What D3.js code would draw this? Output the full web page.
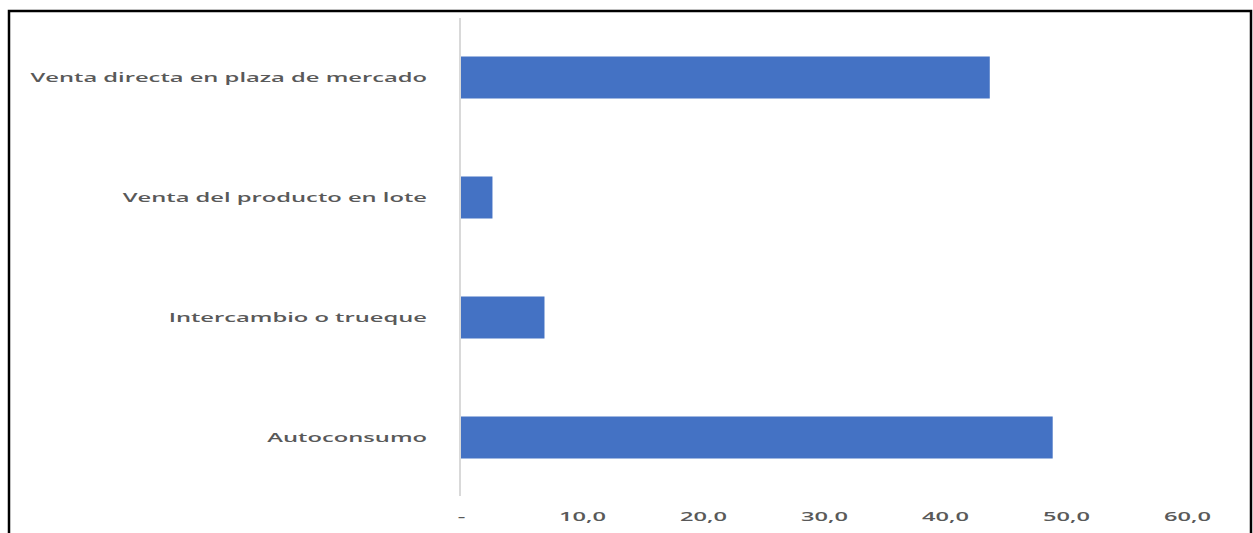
<!DOCTYPE html>
<html><head><meta charset="utf-8">
<script src="https://cdn.jsdelivr.net/npm/d3@7"></script>
<style>html,body{margin:0;padding:0;background:#fff;overflow:hidden}</style>
</head><body>
<svg id="chart" width="1253" height="533"></svg>
<script>
const categories = ["Venta directa en plaza de mercado","Venta del producto en lote","Intercambio o trueque","Autoconsumo"];
const values = [43.7, 2.6, 6.9, 48.9];
const tickValues = [0,10,20,30,40,50,60];

const svg = d3.select("#chart");
svg.append("rect").attr("x",9).attr("y",11).attr("width",1242).attr("height",540)
  .attr("fill","#fff").attr("stroke","#000").attr("stroke-width",2.5);

const x = d3.scaleLinear().domain([0,60]).range([461,1187]);
const y = d3.scaleBand().domain(categories).range([17.5,497.5]).paddingInner(0.65).paddingOuter(0.325);

const loc = d3.formatLocale({decimal:",",thousands:".",grouping:[3],currency:["",""]});
const f = loc.format(".1f");

svg.append("g").selectAll("rect").data(categories).join("rect")
  .attr("x", x(0)).attr("y", d=>y(d))
  .attr("width", (d,i)=>x(values[i])-x(0)).attr("height", y.bandwidth())
  .attr("fill","#4472C4");

svg.append("line").attr("x1",460).attr("x2",460).attr("y1",18).attr("y2",496)
  .attr("stroke","#d9d9d9").attr("stroke-width",2);

const font = "'Open Sans', 'DejaVu Sans', sans-serif";
const labels = svg.append("g").selectAll("text").data(categories).join("text")
  .attr("text-anchor","end").attr("dy","0.36em")
  .attr("font-family",font).attr("font-weight",600).attr("font-size",13).attr("fill","#595959")
  .text(d=>d);
const w0 = labels.nodes()[0].getComputedTextLength();
const sx = 397 / w0;
labels.attr("transform", d=>`translate(427,${y(d)+y.bandwidth()/2}) scale(${sx},1)`);

const xa = svg.append("g").attr("transform","translate(0,510)")
  .call(d3.axisBottom(x).tickValues(tickValues).tickSize(0).tickPadding(0)
    .tickFormat(v=> v===0 ? "-" : f(v)));
xa.select(".domain").remove();
const tt = xa.selectAll("text").attr("dy","0.85em")
  .attr("font-family",font).attr("font-weight",600).attr("font-size",13).attr("fill","#595959");
const tw = tt.nodes()[6].getComputedTextLength();
tt.attr("transform",`scale(${47/tw},1)`);
</script>
</body></html>
